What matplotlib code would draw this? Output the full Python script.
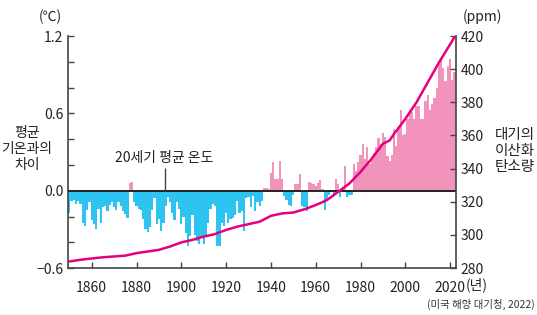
import matplotlib.pyplot as plt
import numpy as np

plt.rcParams['font.family'] = ['Noto Sans CJK KR', 'DejaVu Sans']

# 연도별 평균 기온 편차 (20세기 평균 대비, ℃)
years = list(range(1850, 2023))
anomaly = [
    -0.17, -0.08, -0.07, -0.10, -0.08, -0.10, -0.25, -0.27, -0.15, -0.09,   # 1850s
    -0.23, -0.26, -0.30, -0.14, -0.25, -0.13, -0.12, -0.16, -0.11, -0.09,   # 1860s
    -0.13, -0.15, -0.09, -0.12, -0.16, -0.18, -0.21, 0.06, 0.07, -0.09,     # 1870s
    -0.12, -0.14, -0.15, -0.22, -0.30, -0.32, -0.28, -0.15, -0.06, -0.26,   # 1880s
    -0.22, -0.31, -0.25, -0.12, -0.05, -0.09, -0.17, -0.23, -0.09, -0.14,   # 1890s
    -0.26, -0.20, -0.33, -0.43, -0.35, -0.19, -0.34, -0.39, -0.41, -0.36,   # 1900s
    -0.41, -0.35, -0.25, -0.14, -0.10, -0.12, -0.43, -0.43, -0.25, -0.27,   # 1910s
    -0.17, -0.25, -0.22, -0.21, -0.19, -0.08, -0.17, -0.16, -0.31, -0.06,   # 1920s
    -0.05, -0.13, -0.04, -0.16, -0.09, -0.12, -0.08, 0.02, 0.02, 0.01,      # 1930s
    0.14, 0.22, 0.09, 0.09, 0.23, 0.09, -0.04, -0.07, -0.11, -0.12,         # 1940s
    -0.03, 0.05, 0.05, 0.13, -0.12, -0.13, -0.16, 0.07, 0.06, 0.05,         # 1950s
    0.04, 0.06, 0.08, 0.01, -0.15, -0.07, -0.03, -0.01, -0.04, 0.09,        # 1960s
    0.05, -0.05, 0.02, 0.19, -0.05, -0.03, -0.03, 0.21, 0.15, 0.22,         # 1970s
    0.28, 0.36, 0.25, 0.34, 0.21, 0.24, 0.29, 0.34, 0.41, 0.36,             # 1980s
    0.45, 0.42, 0.27, 0.23, 0.28, 0.48, 0.35, 0.49, 0.63, 0.43,             # 1990s
    0.44, 0.56, 0.63, 0.61, 0.56, 0.66, 0.66, 0.56, 0.56, 0.70,             # 2000s
    0.74, 0.63, 0.67, 0.72, 0.80, 0.98, 1.03, 0.95, 0.85, 0.97,             # 2010s
    1.02, 0.86, 0.92,                                                        # 2020s
]

# 대기의 이산화 탄소량 (ppm)
co2_years = [1850, 1855, 1860, 1865, 1870, 1875, 1880, 1885, 1890, 1895,
             1900, 1905, 1910, 1915, 1920, 1925, 1930, 1935, 1940, 1945,
             1950, 1955, 1960, 1965, 1970, 1975, 1980, 1985, 1990, 1993,
             1995, 2000, 2005, 2010, 2015, 2020, 2022]
co2 = [284.0, 285.0, 285.8, 286.5, 287.0, 287.5, 289.0, 290.0, 291.0, 293.0,
       295.5, 297.0, 299.0, 300.5, 303.0, 305.0, 306.5, 308.0, 311.5, 313.0,
       313.5, 315.5, 318.0, 321.0, 326.0, 331.0, 338.0, 346.0, 355.0, 357.0,
       361.0, 370.0, 380.0, 392.0, 404.0, 415.0, 419.5]

BLUE = '#2ec4f1'
PINK = '#f293bb'
LINE = '#e5007f'
AXC = '#444444'

fig = plt.figure(figsize=(5.37, 3.15), dpi=100)
ax = fig.add_axes([0.127, 0.149, 0.7216, 0.7365])

colors = [PINK if v > 0 else BLUE for v in anomaly]
ax.bar(years, anomaly, width=1.0, color=colors, linewidth=0, zorder=2)
ax.axhline(0, color='#222222', lw=1.4, zorder=3)

ax.set_xlim(1849.5, 2022.5)
ax.set_ylim(-0.6, 1.2)
ax.set_xticks(range(1860, 2021, 20))
ax.set_yticks([-0.6, 0.0, 0.6, 1.2])
ax.set_yticklabels(['−0.6', '0.0', '0.6', '1.2'])
ax.set_yticks(np.arange(-0.6, 1.21, 0.2), minor=True)
ax.tick_params(axis='both', which='both', direction='in', length=4,
               width=1, color=AXC, labelsize=10, labelcolor='#222222')
ax.tick_params(axis='x', pad=9)
for s in ['top', 'right']:
    ax.spines[s].set_visible(False)
for s in ['left', 'bottom']:
    ax.spines[s].set_color(AXC)
    ax.spines[s].set_linewidth(1.2)

# 20세기 평균 온도 표시
ax.vlines(1892.5, 0, 0.175, color='#444444', lw=1, zorder=3)
ax.text(1892.5, 0.255, '20세기 평균 온도', ha='center', va='center',
        fontsize=10, color='#222222')

ax2 = ax.twinx()
ax2.plot(co2_years, co2, color=LINE, lw=1.8, zorder=4)
ax2.set_ylim(280, 420)
ax2.set_yticks(range(280, 421, 20))
ax2.tick_params(axis='y', direction='in', length=4, width=1, color=AXC,
                labelsize=10, labelcolor='#222222')
for s in ['top', 'left', 'bottom']:
    ax2.spines[s].set_visible(False)
ax2.spines['right'].set_color(AXC)
ax2.spines['right'].set_linewidth(1.2)

# 축 제목과 단위
fig.text(50 / 537, 1 - 17 / 315, '(℃)', ha='center', va='center', fontsize=10, color='#222222')
fig.text(482 / 537, 1 - 17 / 315, '(ppm)', ha='center', va='center', fontsize=10, color='#222222')
fig.text(27 / 537, 1 - 149 / 315, '평균\n기온과의\n차이', ha='center', va='center',
         fontsize=10, color='#222222', linespacing=1.15)
fig.text(495 / 537, 1 - 151 / 315, '대기의\n이산화\n탄소량', ha='left', va='center',
         fontsize=10.5, color='#222222', linespacing=1.15)
fig.text(466 / 537, 1 - 285 / 315, '(년)', ha='left', va='center', fontsize=10, color='#222222')
fig.text(535 / 537, 1 - 304 / 315, '(미국 해양 대기청, 2022)', ha='right', va='center',
         fontsize=7.5, color='#333333')

fig.savefig('out.png', dpi=100)
